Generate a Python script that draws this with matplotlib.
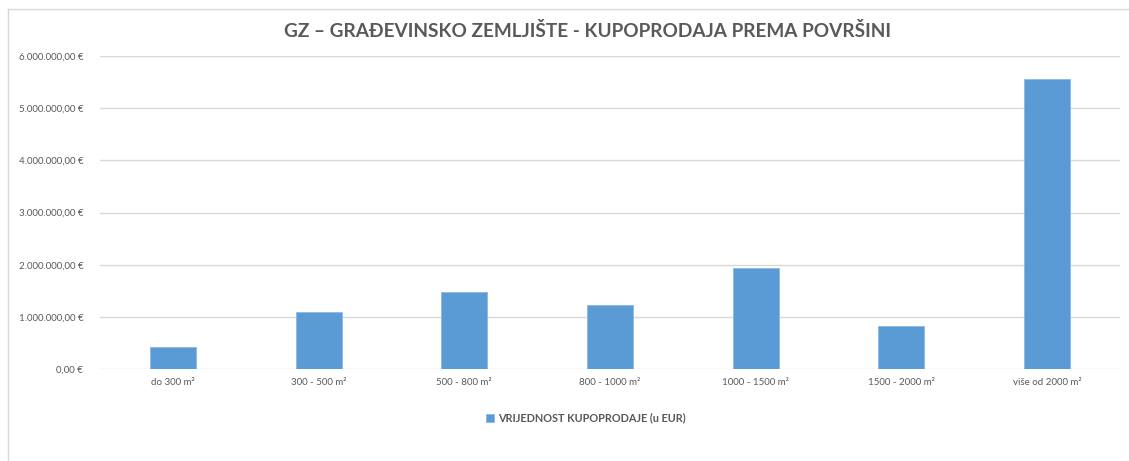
import matplotlib.pyplot as plt
from matplotlib.ticker import FuncFormatter, MultipleLocator
from matplotlib.lines import Line2D

categories = ["do 300 m²", "300 - 500 m²", "500 - 800 m²", "800 - 1000 m²",
              "1000 - 1500 m²", "1500 - 2000 m²", "više od 2000 m²"]
values = [420000, 1100000, 1475000, 1230000, 1935000, 835000, 5555000]
series_name = "VRIJEDNOST KUPOPRODAJE (u EUR)"
title = "GZ – GRAĐEVINSKO ZEMLJIŠTE - KUPOPRODAJA PREMA POVRŠINI"

plt.rcParams['font.family'] = ['Lato', 'DejaVu Sans']
grey = '#595959'


def euro(v, pos):
    s = "{:,.2f}".format(v).replace(",", "X").replace(".", ",").replace("X", ".")
    return s + " €"


fig = plt.figure(figsize=(11.29, 4.61), dpi=100)
ax = fig.add_axes([100 / 1129, 1 - 369.3 / 461, 1020 / 1129, (369.3 - 56) / 461])

x = range(len(categories))
ax.bar(x, values, width=0.316, color='#5b9bd5', edgecolor='#8ab8e6', linewidth=0.6,
       label=series_name, zorder=3)

ax.set_xlim(-0.5, len(categories) - 0.5)
ax.set_ylim(0, 6000000)
ax.yaxis.set_major_locator(MultipleLocator(1000000))
ax.yaxis.set_major_formatter(FuncFormatter(euro))
ax.set_xticks(list(x))
ax.set_xticklabels(categories)
ax.tick_params(axis='both', length=0, labelsize=7, labelcolor=grey)
ax.tick_params(axis='y', pad=12)
ax.tick_params(axis='x', pad=6)
ax.grid(axis='y', color='#d9d9d9', linewidth=1, zorder=0)
for s in ax.spines.values():
    s.set_visible(False)

fig.text(587 / 1129, 1 - 31 / 461, title, ha='center', va='center',
         fontsize=13.7, fontweight='bold', color=grey)

leg = fig.legend(loc='center', bbox_to_anchor=(586 / 1129, 1 - 418 / 461), frameon=False,
                 handlelength=0.7, handleheight=0.7, handletextpad=0.4,
                 prop={'size': 7.8, 'weight': 'bold'})
for t in leg.get_texts():
    t.set_color(grey)

# chart area border: only top and left edges are visible in the crop
x0, y0 = 7.5 / 1129, 1 - 9.5 / 461
fig.add_artist(Line2D([x0, 1], [y0, y0], transform=fig.transFigure, color='#d9d9d9', linewidth=1))
fig.add_artist(Line2D([x0, x0], [0, y0], transform=fig.transFigure, color='#d9d9d9', linewidth=1))

fig.savefig('out.png', dpi=100)
